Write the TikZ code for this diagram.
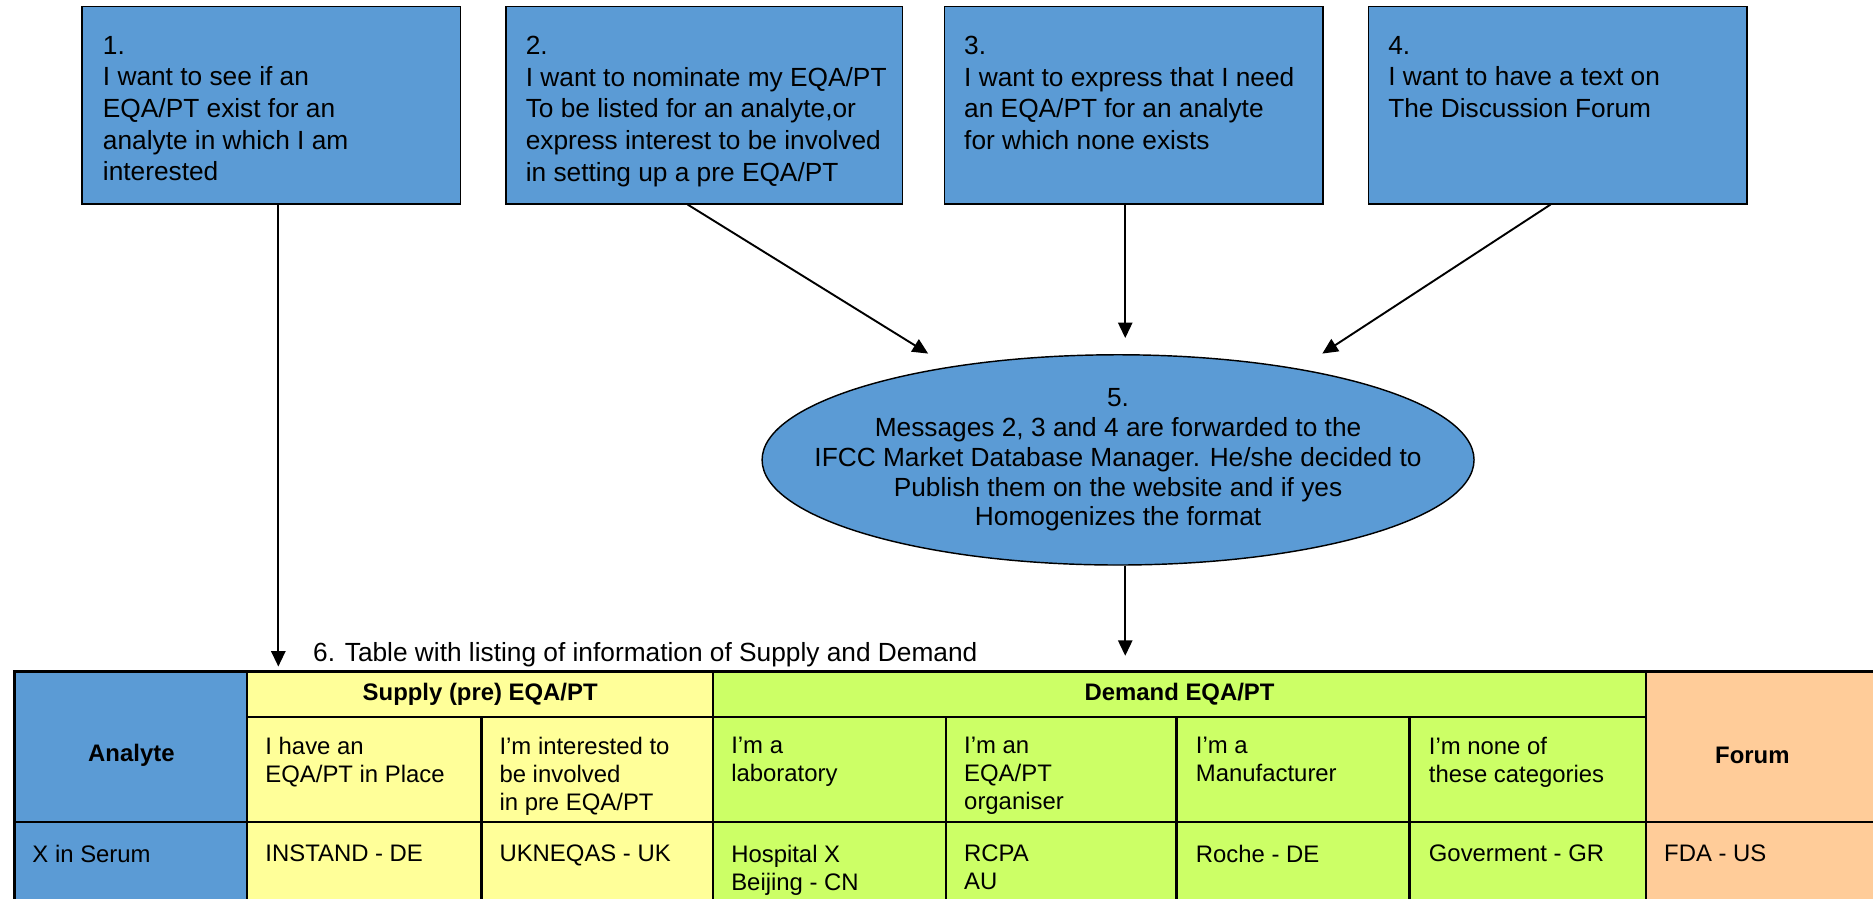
\documentclass[tikz,border=0pt]{standalone}
\usepackage{fontspec}
\setmainfont{Liberation Sans}
\usetikzlibrary{arrows.meta,shapes.geometric,calc}
\definecolor{boxblue}{RGB}{91,155,213}
\definecolor{supyellow}{RGB}{255,255,153}
\definecolor{demgreen}{RGB}{204,255,102}
\definecolor{forange}{RGB}{255,204,153}
\begin{document}
\begin{tikzpicture}[x=1pt,y=-1pt,
  qbox/.style={draw=black,line width=1.2pt,fill=boxblue,anchor=north west,inner sep=0pt},
  qtext/.style={anchor=north west,align=left,inner sep=0pt,font=\fontsize{22}{26.5}\selectfont},
  etext/.style={align=center,inner sep=0pt,font=\fontsize{22}{25}\selectfont},
  ctext/.style={anchor=north west,align=left,inner sep=0pt,font=\fontsize{20}{23.5}\selectfont},
  hdr/.style={inner sep=0pt,font=\fontsize{20}{23.5}\selectfont\bfseries},
  arr/.style={line width=1.6pt,-{Triangle[length=13pt,width=12pt]}},
  grid/.style={line width=2pt}]
\useasboundingbox (0,0) rectangle (1568,751.8);
\clip (0,0) rectangle (1568,751.8);

% top boxes
\node[qbox,minimum width=317pt,minimum height=165pt] (b1) at (68,5) {};
\node[qbox,minimum width=332pt,minimum height=165pt] (b2) at (423,5) {};
\node[qbox,minimum width=317pt,minimum height=165pt] (b3) at (790,5) {};
\node[qbox,minimum width=317pt,minimum height=165pt] (b4) at (1145,5) {};
\node[qtext] (t1) at (86,30) {1.\\I want to see if an\\EQA/PT exist for an\\analyte in which I am\\interested};
\node[qtext] (t2) at (440,30) {2.\\I want to nominate my EQA/PT\\To be listed for an analyte,or\\express interest to be involved\\in setting up a pre EQA/PT};
\node[qtext] (t3) at (807,30) {3.\\I want to express that I need\\an EQA/PT for an analyte\\for which none exists};
\node[qtext] (t4) at (1162,30) {4.\\I want to have a text on\\The Discussion Forum};

% ellipse
\node[draw=black,ellipse,fill=boxblue,line width=1.2pt,minimum width=596pt,minimum height=176pt,inner sep=0pt] (e5) at (936,385) {};
\node[etext] (t5) at (936,385) {5.\\Messages 2, 3 and 4 are forwarded to the\\IFCC Market Database Manager. He/she decided to\\Publish them on the website and if yes\\Homogenizes the format};

% arrow ends
\coordinate (a1) at (233,558);
\coordinate (a2) at (777,296);
\coordinate (a3) at (942,283);
\coordinate (a4) at (1107,296);
\coordinate (a5) at (942,549);
\draw[arr] (b1.south -| a1) -- (a1);
\draw[arr] ($(b2.south)+(-14,0)$) -- (a2);
\draw[arr] (b3.south -| a3) -- (a3);
\draw[arr] ($(b4.south)+(-6,0)$) -- (a4);
\draw[arr] (e5.south -| a5) -- (a5);

% label
\node[anchor=west,inner sep=0pt,font=\fontsize{22}{26}\selectfont] (l6) at (262,548) {6. Table with listing of information of Supply and Demand};

% table fills
\fill[boxblue] (12,562) rectangle (207,760);
\fill[supyellow] (207,562) rectangle (597,760);
\fill[demgreen] (597,562) rectangle (1378,760);
\fill[forange] (1378,562) rectangle (1580,760);
% grid
\draw[grid] (12,760) -- (12,562) -- (1580,562);
\draw[grid] (207,600) -- (1378,600);
\draw[grid] (12,688) -- (1580,688);
\draw[grid] (207,562) -- (207,760);
\draw[grid] (597,562) -- (597,760);
\draw[grid] (1378,562) -- (1378,760);
\foreach \cx in {403,792,985,1180} {\draw[grid] (\cx,600) -- (\cx,760);}

% headers
\node[hdr] (ha) at (110,632) {Analyte};
\node[hdr] (hs) at (402,581) {Supply (pre) EQA/PT};
\node[hdr] (hd) at (987.5,581) {Demand EQA/PT};
\node[hdr] (hf) at (1467,632) {Forum};

% row 2
\node[ctext] (c21) at (222,617) {I have an\\EQA/PT in Place};
\node[ctext] (c22) at (418,617) {I’m interested to\\be involved\\in pre EQA/PT};
\node[ctext] (c23) at (612,617) {I’m a\\laboratory};
\node[ctext] (c24) at (807,617) {I’m an\\EQA/PT\\organiser};
\node[ctext] (c25) at (1001,617) {I’m a\\Manufacturer};
\node[ctext] (c26) at (1196,617) {I’m none of\\these categories};

% row 3
\node[ctext] (c30) at (27,707) {X in Serum};
\node[ctext] (c31) at (222,707) {INSTAND - DE};
\node[ctext] (c32) at (418,707) {UKNEQAS - UK};
\node[ctext] (c33) at (612,707) {Hospital X\\Beijing - CN};
\node[ctext] (c34) at (807,707) {RCPA\\AU};
\node[ctext] (c35) at (1001,707) {Roche - DE};
\node[ctext] (c36) at (1196,707) {Goverment - GR};
\node[ctext] (c37) at (1393,707) {FDA - US};
\end{tikzpicture}
\end{document}
